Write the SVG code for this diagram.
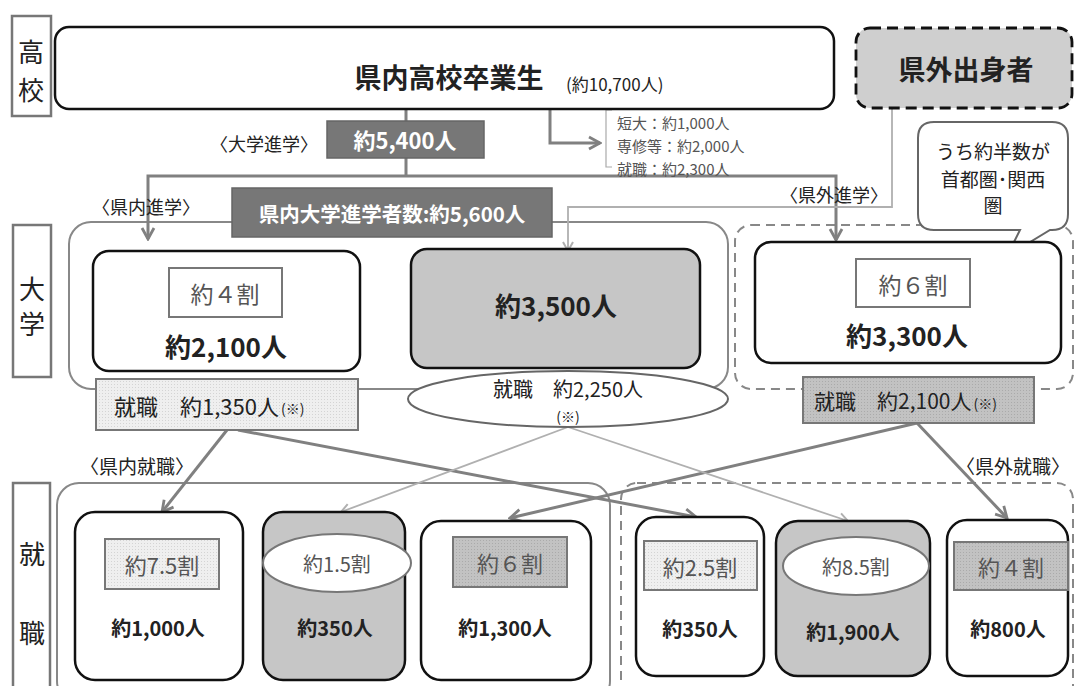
<svg xmlns="http://www.w3.org/2000/svg" width="1076" height="686" viewBox="0 0 1076 686">
<style>
text{font-family:"Noto Sans CJK JP","Noto Sans",sans-serif;dominant-baseline:central;text-anchor:middle;fill:#222}
.b{font-weight:bold}
.side{fill:#fff;stroke:#777;stroke-width:2.5}
.node{fill:#fff;stroke:#111;stroke-width:2.5}
.gnode{fill:#c6c6c6;stroke:#111;stroke-width:2.5}
.dark{fill:#777;stroke:#666;stroke-width:1.5}
.wt{fill:#fff;font-weight:bold}
.tag{stroke:#777;stroke-width:2}
.gt{fill:#555}
.grp{fill:none;stroke:#888;stroke-width:2}
.grpd{fill:none;stroke:#888;stroke-width:2;stroke-dasharray:9,6}
.c{fill:none;stroke:#808080;stroke-width:3}
.cl{fill:none;stroke:#b0b0b0;stroke-width:1.8}
</style>
<defs>
<pattern id="dotL" width="3" height="3" patternUnits="userSpaceOnUse"><rect width="3" height="3" fill="#efefef"/><rect width="1" height="1" fill="#d4d4d4"/></pattern>
<pattern id="dotD" width="3" height="3" patternUnits="userSpaceOnUse"><rect width="3" height="3" fill="#c2c2c2"/><rect width="1" height="1" fill="#aaa"/></pattern>
<marker id="ah" viewBox="0 0 16 16" refX="14" refY="8" markerWidth="16" markerHeight="16" markerUnits="userSpaceOnUse" orient="auto"><path d="M3,2 L14,8 L3,14" fill="none" stroke="#808080" stroke-width="2.8"/></marker>
<marker id="ahl" viewBox="0 0 14 14" refX="12" refY="7" markerWidth="14" markerHeight="14" markerUnits="userSpaceOnUse" orient="auto"><path d="M3,2 L12,7 L3,12" fill="none" stroke="#b0b0b0" stroke-width="2"/></marker>
</defs>
<rect width="1076" height="686" fill="#fff"/>

<g id="side-koukou"><rect class="side" x="12" y="16" width="39" height="100"/><text x="31" y="50" font-size="26">高</text><text x="31" y="88" font-size="26">校</text></g>
<g id="side-daigaku"><rect class="side" x="13" y="225" width="38" height="152"/><text x="32" y="287" font-size="26">大</text><text x="32" y="322" font-size="26">学</text></g>
<g id="side-shushoku"><rect class="side" x="13" y="483" width="37" height="215"/><text x="32" y="552" font-size="26">就</text><text x="32" y="631" font-size="26">職</text></g>

<g id="grp-kennai-univ"><rect class="grp" x="69" y="222" width="659" height="167" rx="22"/></g>
<g id="grp-kengai-univ"><rect class="grpd" x="735" y="225" width="338" height="164" rx="16"/></g>
<g id="grp-kennai-job"><rect class="grp" x="57" y="483" width="553" height="220" rx="22"/></g>
<g id="grp-kengai-job"><rect class="grpd" x="621" y="483" width="452" height="220" rx="16"/></g>

<g id="connectors">
<path class="c" d="M406,109 V121 M406,158 V176"/>
<path class="c" d="M406,176 H148 V239" marker-end="url(#ah)"/>
<path class="c" d="M406,176 H836 V240" marker-end="url(#ah)"/>
<path class="c" d="M550,109 V143 H600" marker-end="url(#ah)"/>
<path d="M612,110 H606 V167 H612" fill="none" stroke="#aaa" stroke-width="1.2"/>
<path class="cl" d="M892,108 V207 H568 V251" marker-end="url(#ahl)"/>
<path class="c" d="M227,430 L162,512" marker-end="url(#ah)"/>
<path class="c" d="M238,430 L696,517" marker-end="url(#ah)"/>
<path class="c" d="M917,423 L510,518" marker-end="url(#ah)"/>
<path class="c" d="M917,423 L1007,518" marker-end="url(#ah)"/>
<path class="cl" d="M568,427 L341,512" marker-end="url(#ahl)"/>
<path class="cl" d="M568,427 L848,521" marker-end="url(#ahl)"/>
</g>

<g id="n-sotsugyo"><rect class="node" x="55" y="27" width="779" height="82" rx="14"/><text class="b" x="449" y="76" font-size="27">県内高校卒業生</text><text x="566" y="83" font-size="17" style="text-anchor:start">(約10,700人)</text></g>
<g id="n-kengai-shusshin"><rect x="856" y="28" width="216" height="80" rx="14" fill="#cfcfcf" stroke="#111" stroke-width="2.8" stroke-dasharray="11,6"/><text class="b" x="966" y="68" font-size="27">県外出身者</text></g>
<g id="n-5400"><rect class="dark" x="327" y="121" width="157" height="37"/><text class="wt" x="405" y="139" font-size="22">約5,400人</text></g>
<text x="264" y="143" font-size="18">〈大学進学〉</text>
<g id="n-others"><text class="gt" x="617" y="122" font-size="15" style="text-anchor:start">短大：約1,000人</text><text class="gt" x="617" y="145" font-size="15" style="text-anchor:start">専修等：約2,000人</text><text class="gt" x="617" y="168" font-size="15" style="text-anchor:start">就職：約2,300人</text></g>
<text x="146" y="206" font-size="18">〈県内進学〉</text>
<text x="834" y="194" font-size="18">〈県外進学〉</text>
<g id="n-5600"><rect class="dark" x="232" y="188" width="320" height="49"/><text class="wt" x="392" y="213" font-size="20.5">県内大学進学者数:約5,600人</text></g>
<g id="n-callout"><path d="M934,122 H1052 Q1068,122 1068,138 V214 Q1068,230 1052,230 H1050 L1007,256 L1020,230 H934 Q918,230 918,214 V138 Q918,122 934,122 Z" fill="#fff" stroke="#666" stroke-width="2"/><text x="993" y="150" font-size="19">うち約半数が</text><text x="993" y="178" font-size="19">首都圏･関西</text><text x="993" y="204" font-size="19">圏</text></g>

<g id="n-2100"><rect class="node" x="93" y="251" width="267" height="120" rx="16"/><rect x="169" y="268" width="113" height="49" fill="#fff" class="tag"/><text class="gt" x="225" y="293" font-size="23">約４割</text><text class="b" x="226" y="345" font-size="26">約2,100人</text></g>
<g id="n-3500"><rect class="gnode" x="411" y="249" width="289" height="119" rx="16"/><text class="b" x="556" y="304" font-size="26">約3,500人</text></g>
<g id="n-3300"><rect class="node" x="755" y="242" width="306" height="121" rx="16"/><rect x="856" y="259" width="114" height="48" fill="#fff" class="tag"/><text class="gt" x="913" y="284" font-size="23">約６割</text><text class="b" x="907" y="334" font-size="26">約3,300人</text></g>

<g id="n-job1350"><rect x="96" y="379" width="262" height="51" fill="url(#dotL)" class="tag"/><text x="114" y="405" font-size="22" style="text-anchor:start">就職　約1,350人<tspan font-size="14" dx="2" dy="3">(※)</tspan></text></g>
<g id="n-job2250"><ellipse cx="568" cy="399" rx="160" ry="28" fill="#fff" stroke="#666" stroke-width="2"/><text x="568" y="388" font-size="20">就職　約2,250人</text><text x="568" y="416" font-size="14">(※)</text></g>
<g id="n-job2100"><rect x="803" y="377" width="231" height="46" fill="url(#dotD)" class="tag"/><text x="814" y="400" font-size="21" style="text-anchor:start">就職　約2,100人<tspan font-size="14" dx="2" dy="3">(※)</tspan></text></g>

<text x="137" y="465" font-size="19">〈県内就職〉</text>
<text x="1013" y="465" font-size="19">〈県外就職〉</text>

<g id="n-in-1000"><rect class="node" x="75" y="512" width="168" height="168" rx="20"/><rect x="105" y="539" width="114" height="50" fill="url(#dotL)" class="tag"/><text class="gt" x="162" y="564" font-size="22">約7.5割</text><text class="b" x="158" y="627" font-size="20">約1,000人</text></g>
<g id="n-in-350"><rect class="gnode" x="263" y="512" width="142" height="168" rx="20"/><ellipse cx="337" cy="563" rx="74" ry="29" fill="#fff" stroke="#777" stroke-width="2"/><text class="gt" x="337" y="563" font-size="20">約1.5割</text><text class="b" x="335" y="627" font-size="20">約350人</text></g>
<g id="n-in-1300"><rect class="node" x="421" y="521" width="170" height="159" rx="20"/><rect x="453" y="537" width="114" height="50" fill="url(#dotD)" class="tag"/><text class="gt" x="510" y="562" font-size="22">約６割</text><text class="b" x="505" y="627" font-size="20">約1,300人</text></g>
<g id="n-out-350"><rect class="node" x="636" y="517" width="128" height="159" rx="20"/><rect x="644" y="541" width="113" height="49" fill="url(#dotL)" class="tag"/><text class="gt" x="700" y="566" font-size="22">約2.5割</text><text class="b" x="700" y="628" font-size="20">約350人</text></g>
<g id="n-out-1900"><rect class="gnode" x="776" y="521" width="154" height="155" rx="22"/><ellipse cx="856" cy="566" rx="73" ry="29" fill="#fff" stroke="#777" stroke-width="2"/><text class="gt" x="856" y="566" font-size="20">約8.5割</text><text class="b" x="853" y="631" font-size="20">約1,900人</text></g>
<g id="n-out-800"><rect class="node" x="947" y="520" width="121" height="156" rx="20"/><rect x="954" y="542" width="114" height="48" fill="url(#dotD)" class="tag"/><text class="gt" x="1011" y="566" font-size="22">約４割</text><text class="b" x="1008" y="628" font-size="20">約800人</text></g>
</svg>
